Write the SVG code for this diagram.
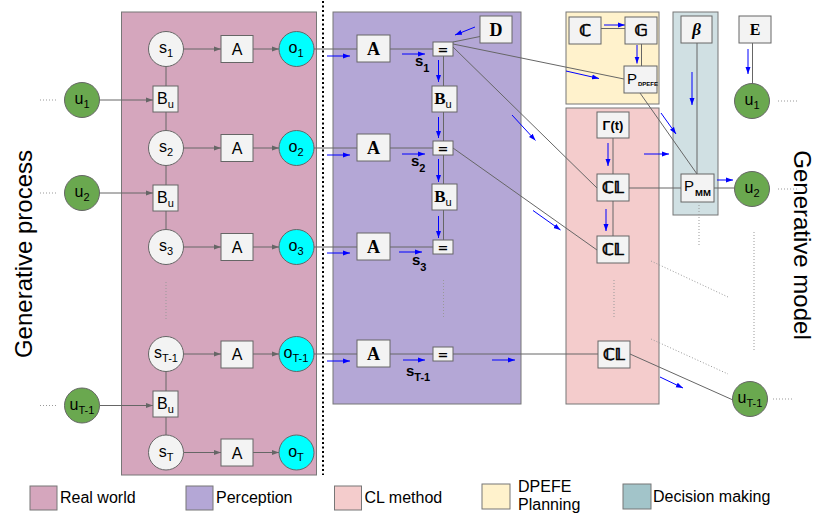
<svg xmlns="http://www.w3.org/2000/svg" width="817" height="517" viewBox="0 0 817 517">
<defs>
<style>
.panel{stroke:#777;stroke-width:1}
.nd{fill:#f3f3f3;stroke:#666;stroke-width:1}
.u{fill:#6aa84f;stroke:#666;stroke-width:1}
.o{fill:#00ffff;stroke:#666;stroke-width:1}
.ln{stroke:#666;stroke-width:1;fill:none}
.gar{stroke:#666;stroke-width:1;fill:none;marker-end:url(#ga)}
.bar{stroke:#0000ff;stroke-width:1;fill:none;marker-end:url(#ba)}
.dot{stroke:#999;stroke-width:1;stroke-dasharray:1 2;fill:none}
text{font-family:"Liberation Sans",Arial,sans-serif;fill:#000}
.t{font-size:16px;text-anchor:middle}
.sb{font-size:11px}
.bs{font-family:"Liberation Serif","DejaVu Serif",serif;font-weight:bold;font-size:18px;text-anchor:middle}
.ds{font-family:"DejaVu Sans",sans-serif;font-weight:bold;font-size:16px;text-anchor:middle;stroke:#000;stroke-width:0.6}
.eq{font-family:"DejaVu Sans",sans-serif;font-weight:bold;font-size:13px;text-anchor:middle}
.sl{font-weight:bold;font-size:15px}
.sls{font-weight:bold;font-size:11px}
.lg{font-size:16px}
.big{font-size:24px;text-anchor:middle}
</style>
<marker id="ga" markerWidth="7" markerHeight="6" refX="7" refY="3" orient="auto" markerUnits="userSpaceOnUse"><path d="M0,0.5L7,3L0,5.5z" fill="#666"/></marker>
<marker id="ba" markerWidth="7" markerHeight="6" refX="7" refY="3" orient="auto" markerUnits="userSpaceOnUse"><path d="M0,0.5L7,3L0,5.5z" fill="#0000ff"/></marker>
</defs>
<rect width="817" height="517" fill="#fff"/>

<!-- panels -->
<g id="panels">
<rect class="panel" x="121.5" y="12" width="195" height="463" fill="#d5a6bd"/>
<rect class="panel" x="333" y="12" width="188" height="392" fill="#b4a7d6"/>
<rect class="panel" x="566" y="12" width="93" height="92" fill="#fff2cc"/>
<rect class="panel" x="566" y="108" width="93" height="296" fill="#f4cccc"/>
<rect class="panel" x="673" y="12" width="45" height="203" fill="#d0e0e3"/>
</g>

<line x1="323" y1="1" x2="323" y2="475" stroke="#000" stroke-width="2" stroke-dasharray="2 2.5"/>

<text class="big" transform="translate(32,254) rotate(-90)">Generative process</text>
<text class="big" transform="translate(794,245) rotate(90)">Generative model</text>

<!-- connectors -->
<g id="connectors">
<line class="gar" x1="183.5" y1="49" x2="221" y2="49"/>
<line class="gar" x1="253" y1="49" x2="279" y2="49"/>
<line class="gar" x1="183.5" y1="148" x2="221" y2="148"/>
<line class="gar" x1="253" y1="148" x2="279" y2="148"/>
<line class="gar" x1="183.5" y1="247" x2="221" y2="247"/>
<line class="gar" x1="253" y1="247" x2="279" y2="247"/>
<line class="gar" x1="183.5" y1="354" x2="221" y2="354"/>
<line class="gar" x1="253" y1="354" x2="279" y2="354"/>
<line class="gar" x1="183.5" y1="452.5" x2="221" y2="452.5"/>
<line class="gar" x1="253" y1="452.5" x2="279" y2="452.5"/>
<line class="gar" x1="99.5" y1="100" x2="153" y2="100"/>
<line class="gar" x1="99.5" y1="193" x2="153" y2="193"/>
<line class="gar" x1="99.5" y1="405.5" x2="153" y2="405.5"/>
<line class="ln" x1="166" y1="66.5" x2="166" y2="86"/>
<line class="ln" x1="166" y1="112" x2="166" y2="130.5"/>
<line class="ln" x1="166" y1="165.5" x2="166" y2="185"/>
<line class="ln" x1="166" y1="211" x2="166" y2="229.5"/>
<line class="ln" x1="166" y1="371.5" x2="166" y2="391"/>
<line class="ln" x1="166" y1="417" x2="166" y2="435"/>
<line class="dot" x1="40" y1="100" x2="58" y2="100"/>
<line class="dot" x1="40" y1="193" x2="58" y2="193"/>
<line class="dot" x1="40" y1="405.5" x2="58" y2="405.5"/>
<line class="dot" x1="166" y1="282" x2="166" y2="320"/>

<line class="ln" x1="314" y1="49" x2="357" y2="49"/>
<line class="ln" x1="390" y1="49" x2="433" y2="49"/>
<line class="ln" x1="314" y1="148" x2="357" y2="148"/>
<line class="ln" x1="390" y1="148" x2="433" y2="148"/>
<line class="ln" x1="314" y1="247" x2="357" y2="247"/>
<line class="ln" x1="390" y1="247" x2="433" y2="247"/>
<line class="ln" x1="314" y1="354" x2="357" y2="354"/>
<line class="ln" x1="390" y1="354" x2="433" y2="354"/>
<line class="ln" x1="453" y1="354" x2="598" y2="354"/>
<line class="ln" x1="443.5" y1="56" x2="443.5" y2="86"/>
<line class="ln" x1="443.5" y1="112" x2="443.5" y2="141"/>
<line class="ln" x1="443.5" y1="155" x2="443.5" y2="184"/>
<line class="ln" x1="443.5" y1="210" x2="443.5" y2="240"/>
<line class="dot" x1="443.5" y1="280" x2="443.5" y2="317"/>
<line class="ln" x1="480" y1="36.5" x2="453" y2="42"/>
<line class="ln" x1="453" y1="44" x2="624" y2="79"/>
<line class="ln" x1="453" y1="47" x2="597" y2="188"/>
<line class="ln" x1="453" y1="148" x2="597" y2="250"/>

<line class="bar" x1="327" y1="56" x2="350" y2="56"/>
<line class="bar" x1="402" y1="54" x2="425" y2="54"/>
<line class="bar" x1="327" y1="155" x2="350" y2="155"/>
<line class="bar" x1="402" y1="154" x2="425" y2="154"/>
<line class="bar" x1="327" y1="253" x2="350" y2="253"/>
<line class="bar" x1="399" y1="252" x2="422" y2="252"/>
<line class="bar" x1="327" y1="361" x2="350" y2="361"/>
<line class="bar" x1="403" y1="360" x2="425" y2="360"/>
<line class="bar" x1="492" y1="360" x2="515" y2="360"/>
<line class="bar" x1="438.5" y1="60" x2="438.5" y2="82"/>
<line class="bar" x1="438.5" y1="117" x2="438.5" y2="138"/>
<line class="bar" x1="438.5" y1="159" x2="438.5" y2="182"/>
<line class="bar" x1="438.5" y1="216" x2="438.5" y2="238"/>
<line class="bar" x1="475" y1="27" x2="455" y2="35"/>
<line class="bar" x1="512" y1="115" x2="535.5" y2="140.5"/>
<line class="bar" x1="533" y1="210.5" x2="560.5" y2="230"/>

<line class="ln" x1="601" y1="28.5" x2="625" y2="28.5"/>
<line class="bar" x1="604" y1="25" x2="625" y2="25"/>
<line class="ln" x1="641.5" y1="43" x2="641.5" y2="66"/>
<line class="bar" x1="637" y1="45" x2="637" y2="63.5"/>
<line class="bar" x1="566" y1="71" x2="599" y2="78.5"/>
<line class="ln" x1="640" y1="93" x2="697" y2="174"/>
<line class="ln" x1="697" y1="43" x2="697" y2="174"/>
<line class="bar" x1="692" y1="72" x2="692" y2="105"/>
<line class="ln" x1="752.5" y1="43" x2="752.5" y2="83.5"/>
<line class="bar" x1="748" y1="49" x2="748" y2="74"/>
<line class="bar" x1="661" y1="113" x2="676" y2="134"/>
<line class="bar" x1="644" y1="154" x2="669" y2="154"/>
<line class="ln" x1="613" y1="138" x2="613" y2="174"/>
<line class="bar" x1="608" y1="143" x2="608" y2="166"/>
<line class="ln" x1="613" y1="201" x2="613" y2="236"/>
<line class="bar" x1="606" y1="209" x2="606" y2="231"/>
<line class="ln" x1="629" y1="188" x2="681" y2="188"/>
<line class="ln" x1="714" y1="188" x2="734.5" y2="188"/>
<line class="bar" x1="717" y1="180" x2="733" y2="180"/>
<line class="ln" x1="630" y1="354" x2="733" y2="400"/>
<line class="bar" x1="660" y1="377" x2="683" y2="388"/>
<line class="dot" x1="614" y1="280" x2="614" y2="317"/>
<line class="dot" x1="699" y1="205" x2="699" y2="247"/>
<line class="dot" x1="754" y1="232" x2="754" y2="352"/>
<line class="dot" x1="651" y1="261" x2="728" y2="297"/>
<line class="dot" x1="651" y1="339" x2="728" y2="374"/>
<line class="dot" x1="778" y1="101" x2="797" y2="101"/>
<line class="dot" x1="778" y1="189" x2="797" y2="189"/>
<line class="dot" x1="773" y1="399" x2="792" y2="399"/>
</g>

<g id="s1"><circle class="nd" cx="166" cy="49" r="17.5"/><text class="t" x="166" y="53">s<tspan class="sb" dy="4">1</tspan></text></g>
<g id="s2"><circle class="nd" cx="166" cy="148" r="17.5"/><text class="t" x="166" y="152">s<tspan class="sb" dy="4">2</tspan></text></g>
<g id="s3"><circle class="nd" cx="166" cy="247" r="17.5"/><text class="t" x="166" y="251">s<tspan class="sb" dy="4">3</tspan></text></g>
<g id="sT1"><circle class="nd" cx="166" cy="354" r="17.5"/><text class="t" x="166" y="358">s<tspan class="sb" dy="4">T-1</tspan></text></g>
<g id="sT"><circle class="nd" cx="166" cy="452.5" r="17.5"/><text class="t" x="166" y="456.5">s<tspan class="sb" dy="4">T</tspan></text></g>

<g id="A1"><rect class="nd" x="221" y="35.5" width="32" height="27"/><text class="t" x="237" y="55">A</text></g>
<g id="A2"><rect class="nd" x="221" y="134.5" width="32" height="27"/><text class="t" x="237" y="154">A</text></g>
<g id="A3"><rect class="nd" x="221" y="233.5" width="32" height="27"/><text class="t" x="237" y="253">A</text></g>
<g id="AT1"><rect class="nd" x="221" y="341" width="32" height="27"/><text class="t" x="237" y="360">A</text></g>
<g id="AT"><rect class="nd" x="221" y="439" width="32" height="27"/><text class="t" x="237" y="458.5">A</text></g>

<g id="o1"><circle class="o" cx="296.5" cy="49" r="17.5"/><text class="t" x="296" y="53">o<tspan class="sb" dy="4">1</tspan></text></g>
<g id="o2"><circle class="o" cx="296.5" cy="148" r="17.5"/><text class="t" x="296" y="152">o<tspan class="sb" dy="4">2</tspan></text></g>
<g id="o3"><circle class="o" cx="296.5" cy="247" r="17.5"/><text class="t" x="296" y="251">o<tspan class="sb" dy="4">3</tspan></text></g>
<g id="oT1"><circle class="o" cx="296.5" cy="354" r="17.5"/><text class="t" x="296" y="358">o<tspan class="sb" dy="4">T-1</tspan></text></g>
<g id="oT"><circle class="o" cx="296.5" cy="452.5" r="17.5"/><text class="t" x="296" y="456.5">o<tspan class="sb" dy="4">T</tspan></text></g>

<g id="Bu1"><rect class="nd" x="153" y="86" width="25" height="26"/><text class="t" x="165.5" y="104">B<tspan class="sb" dy="4">u</tspan></text></g>
<g id="Bu2"><rect class="nd" x="153" y="185" width="25" height="26"/><text class="t" x="165.5" y="203">B<tspan class="sb" dy="4">u</tspan></text></g>
<g id="BuT1"><rect class="nd" x="153" y="391" width="25" height="26"/><text class="t" x="165.5" y="409">B<tspan class="sb" dy="4">u</tspan></text></g>

<g id="u1"><circle class="u" cx="82" cy="100" r="17.5"/><text class="t" x="82" y="104">u<tspan class="sb" dy="4">1</tspan></text></g>
<g id="u2"><circle class="u" cx="82" cy="193" r="17.5"/><text class="t" x="82" y="197">u<tspan class="sb" dy="4">2</tspan></text></g>
<g id="uT1"><circle class="u" cx="82" cy="405.5" r="17.5"/><text class="t" x="82" y="409.5">u<tspan class="sb" dy="4">T-1</tspan></text></g>

<g id="D"><rect class="nd" x="480" y="16" width="32" height="27"/><text class="bs" x="496" y="36">D</text></g>
<g id="PA1"><rect class="nd" x="357" y="35" width="33" height="27"/><text class="bs" x="373.5" y="55">A</text></g>
<g id="PA2"><rect class="nd" x="357" y="134" width="33" height="27"/><text class="bs" x="373.5" y="154">A</text></g>
<g id="PA3"><rect class="nd" x="357" y="233" width="33" height="27"/><text class="bs" x="373.5" y="253">A</text></g>
<g id="PAT1"><rect class="nd" x="357" y="340" width="33" height="27"/><text class="bs" x="373.5" y="360">A</text></g>
<g id="eq1"><rect class="nd" x="433" y="42" width="20" height="14"/><text class="eq" x="443" y="54">=</text></g>
<g id="eq2"><rect class="nd" x="433" y="141" width="20" height="14"/><text class="eq" x="443" y="153">=</text></g>
<g id="eq3"><rect class="nd" x="433" y="240" width="20" height="14"/><text class="eq" x="443" y="252">=</text></g>
<g id="eqT1"><rect class="nd" x="433" y="347" width="20" height="14"/><text class="eq" x="443" y="359">=</text></g>
<g id="PB1"><rect class="nd" x="432" y="86" width="25" height="26"/><text class="bs" x="443" y="104" style="font-size:17px">B<tspan style="font-family:'Liberation Sans',sans-serif;font-weight:normal;font-size:11px" dy="4">u</tspan></text></g>
<g id="PB2"><rect class="nd" x="432" y="184" width="25" height="26"/><text class="bs" x="443" y="202" style="font-size:17px">B<tspan style="font-family:'Liberation Sans',sans-serif;font-weight:normal;font-size:11px" dy="4">u</tspan></text></g>
<g id="slabels">
<text class="sl" x="415" y="66">s<tspan class="sls" dy="6">1</tspan></text>
<text class="sl" x="411" y="166">s<tspan class="sls" dy="6">2</tspan></text>
<text class="sl" x="412" y="265">s<tspan class="sls" dy="6">3</tspan></text>
<text class="sl" x="406" y="376">s<tspan class="sls" dy="5">T-1</tspan></text>
</g>

<g id="C"><rect class="nd" x="569" y="17" width="32" height="27"/><text class="ds" x="585" y="36">ℂ</text></g>
<g id="G"><rect class="nd" x="625" y="17" width="32" height="27"/><text class="ds" x="641" y="36">𝔾</text></g>
<g id="PDPEFE"><rect class="nd" x="624" y="66" width="33" height="27"/><text x="627" y="84" style="font-size:15px">P<tspan style="font-size:6px;font-weight:bold" dx="1" dy="2">DPEFE</tspan></text></g>
<g id="beta"><rect class="nd" x="681" y="16" width="31" height="27"/><text class="bs" x="696.5" y="35" style="font-style:italic;font-size:17px">β</text></g>
<g id="E"><rect class="nd" x="739" y="16" width="32" height="27"/><text class="bs" x="755" y="35" style="font-size:16px">E</text></g>
<g id="Gamma"><rect class="nd" x="597" y="112" width="32" height="26"/><text x="613" y="130" style="font-size:13px;font-weight:bold;text-anchor:middle">Γ(t)</text></g>
<g id="CL1"><rect class="nd" x="597" y="174" width="32" height="27"/><text class="ds" x="613" y="193">ℂ𝕃</text></g>
<g id="CL2"><rect class="nd" x="597" y="236" width="32" height="27"/><text class="ds" x="613" y="255">ℂ𝕃</text></g>
<g id="CLT1"><rect class="nd" x="598" y="341" width="32" height="27"/><text class="ds" x="614" y="360">ℂ𝕃</text></g>
<g id="PMM"><rect class="nd" x="681" y="174" width="33" height="28"/><text x="684" y="191" style="font-size:15px">P<tspan style="font-size:9.5px;font-weight:bold" dx="1" dy="5">MM</tspan></text></g>
<g id="ru1"><circle class="u" cx="752" cy="101" r="17.5"/><text class="t" x="752" y="105">u<tspan class="sb" dy="4">1</tspan></text></g>
<g id="ru2"><circle class="u" cx="752" cy="189" r="17.5"/><text class="t" x="752" y="193">u<tspan class="sb" dy="4">2</tspan></text></g>
<g id="ruT1"><circle class="u" cx="750" cy="399" r="17.5"/><text class="t" x="750" y="403">u<tspan class="sb" dy="4">T-1</tspan></text></g>

<g id="legend">
<rect class="panel" x="30" y="486" width="27" height="24" fill="#d5a6bd"/>
<text class="lg" x="60" y="502.5">Real world</text>
<rect class="panel" x="186" y="486" width="27" height="24" fill="#b4a7d6"/>
<text class="lg" x="216" y="502.5">Perception</text>
<rect class="panel" x="334.5" y="486" width="27" height="24" fill="#f4cccc"/>
<text class="lg" x="364.5" y="502.5">CL method</text>
<rect class="panel" x="482" y="484" width="28" height="25" fill="#fff2cc"/>
<text class="lg" x="518" y="492">DPEFE</text>
<text class="lg" x="518" y="510">Planning</text>
<rect class="panel" x="623" y="484" width="28" height="25" fill="#a2c4c9"/>
<text class="lg" x="653" y="501.5">Decision making</text>
</g>
</svg>
